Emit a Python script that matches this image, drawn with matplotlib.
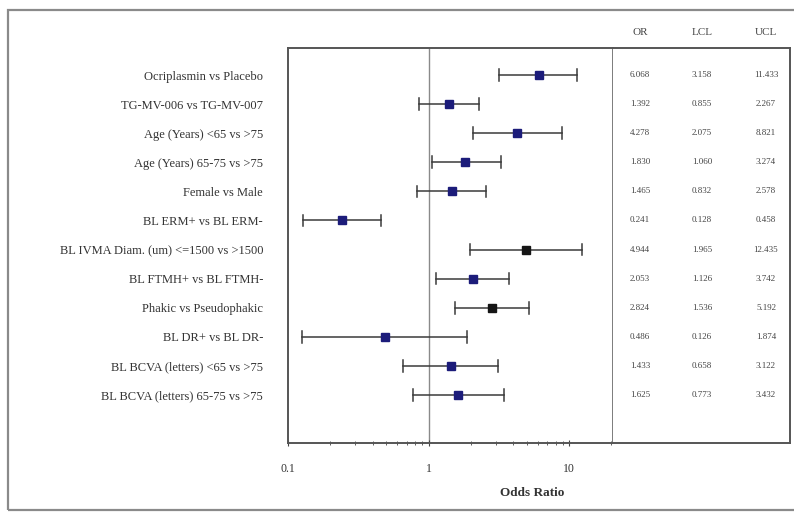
import matplotlib
matplotlib.use("Agg")
import matplotlib.pyplot as plt
from matplotlib.patches import Rectangle
from matplotlib.ticker import FixedLocator, LogLocator, NullFormatter

plt.rcParams['font.family'] = ['Liberation Serif', 'DejaVu Serif']

labels = [
    "Ocriplasmin vs Placebo",
    "TG-MV-006 vs TG-MV-007",
    "Age (Years) <65 vs >75",
    "Age (Years) 65-75 vs >75",
    "Female vs Male",
    "BL ERM+ vs BL ERM-",
    "BL IVMA Diam. (um) <=1500 vs >1500",
    "BL FTMH+ vs BL FTMH-",
    "Phakic vs Pseudophakic",
    "BL DR+ vs BL DR-",
    "BL BCVA (letters) <65 vs >75",
    "BL BCVA (letters) 65-75 vs >75",
]
odds = [6.068, 1.392, 4.278, 1.830, 1.465, 0.241, 4.944, 2.053, 2.824, 0.486, 1.433, 1.625]
lcl = [3.158, 0.855, 2.075, 1.060, 0.832, 0.128, 1.965, 1.126, 1.536, 0.126, 0.658, 0.773]
ucl = [11.433, 2.267, 8.821, 3.274, 2.578, 0.458, 12.435, 3.742, 5.192, 1.874, 3.122, 3.432]
marker_cols = ['#1c1c7a'] * 12
marker_cols[6] = '#151515'
marker_cols[8] = '#151515'

W, H = 794, 513
fig = plt.figure(figsize=(W / 100, H / 100), dpi=100)

# outer frame
fig.patches.append(Rectangle((8 / W, 1 - 510 / H), 1.0, 500 / H, transform=fig.transFigure,
                             fill=False, edgecolor='#8a8a8a', linewidth=1.6))

left, right, top, bottom = 288, 613, 48, 443
ax = fig.add_axes([left / W, 1 - bottom / H, (right - left) / W, (bottom - top) / H])
tab = fig.add_axes([right / W, 1 - bottom / H, (790 - right) / W, (bottom - top) / H])

ys = list(range(len(labels)))
for i in ys:
    ax.plot([lcl[i], ucl[i]], [i, i], color='#3a3a3a', lw=1.1, zorder=2)
    ax.plot([lcl[i], lcl[i]], [i - 0.2, i + 0.2], color='#3a3a3a', lw=1.1, zorder=2)
    ax.plot([ucl[i], ucl[i]], [i - 0.2, i + 0.2], color='#3a3a3a', lw=1.1, zorder=2)
    ax.plot(odds[i], i, marker='s', ms=5.5, color=marker_cols[i], zorder=3)

ax.axvline(1, color='#8a8a8a', lw=1.0, zorder=1)
ax.set_xscale('log')
ax.set_xlim(0.1, 20.5)
ax.set_ylim(12.65, -0.93)
ax.xaxis.set_major_locator(FixedLocator([0.1, 1, 10]))
ax.set_xticklabels(["0.1", "1", "10"], fontsize=8.5, color='#333333')
ax.xaxis.set_minor_locator(LogLocator(base=10, subs=range(2, 10)))
ax.xaxis.set_minor_formatter(NullFormatter())
ax.tick_params(axis='x', which='major', direction='inout', length=5, pad=12, color='#444444')
ax.tick_params(axis='x', which='minor', direction='inout', length=3, color='#444444')
ax.set_yticks(ys)
ax.set_yticklabels(labels, fontsize=9, color='#333333')
ax.tick_params(axis='y', length=0, pad=18)
for s in ['left', 'bottom', 'top']:
    ax.spines[s].set_color('#555555')
    ax.spines[s].set_linewidth(1.4)
ax.spines['right'].set_color('#666666')
ax.spines['right'].set_linewidth(1.2)

# table of values
tab.set_xlim(0, 1)
tab.set_ylim(12.65, -0.93)
tab.set_xticks([])
tab.set_yticks([])
tab.spines['left'].set_visible(False)
for s in ['right', 'bottom', 'top']:
    tab.spines[s].set_color('#555555')
    tab.spines[s].set_linewidth(1.4)
col_x = [(640 - right) / (790 - right), (702 - right) / (790 - right), (766 - right) / (790 - right)]
headers = ["OR", "LCL", "UCL"]
for x, h in zip(col_x, headers):
    tab.text(x, -1.45, h, ha='center', va='center', fontsize=8, color='#444444')
for i in ys:
    for x, v in zip(col_x, [odds[i], lcl[i], ucl[i]]):
        tab.text(x, i, f"{v:.3f}", ha='center', va='center', fontsize=6.5, color='#444444')

fig.text(532 / W, 1 - 493 / H, "Odds Ratio", ha='center', va='center',
         fontsize=9.5, fontweight='bold', color='#333333')

fig.savefig("out.png", dpi=100)
